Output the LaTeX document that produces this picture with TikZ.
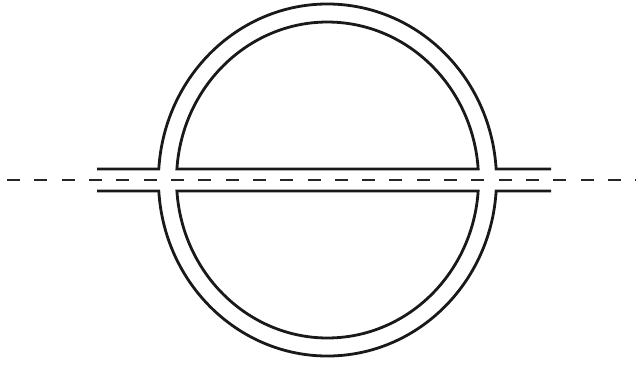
\documentclass[tikz,border=0pt]{standalone}
\begin{document}
\begin{tikzpicture}[x=1pt,y=1pt,
  ring/.style={line width=2.8pt,line join=miter,black!90},
  axisline/.style={line width=1.8pt,black!85,dash pattern=on 13pt off 14.32pt}]
\useasboundingbox (0,0) rectangle (639,-367);
\coordinate (c) at (327.5,-180);
% axis
\coordinate (axL) at (7,-180);
\coordinate (axR) at (636,-180);
\draw[axisline] (axL) -- (axR);
% outer upper
\draw[ring] (97,-169) -- (158.8,-169)
  arc[start angle=176.42,end angle=3.58,x radius=169pt,y radius=176pt] -- (551,-169);
% outer lower
\draw[ring] (97,-191) -- (158.8,-191)
  arc[start angle=183.58,end angle=356.42,x radius=169pt,y radius=176pt] -- (551,-191);
% inner upper
\draw[ring] (176.9,-169)
  arc[start angle=176.0,end angle=4.0,x radius=151pt,y radius=158pt] -- cycle;
% inner lower
\draw[ring] (176.9,-191)
  arc[start angle=184.0,end angle=356.0,x radius=151pt,y radius=158pt] -- cycle;
\end{tikzpicture}
\end{document}
